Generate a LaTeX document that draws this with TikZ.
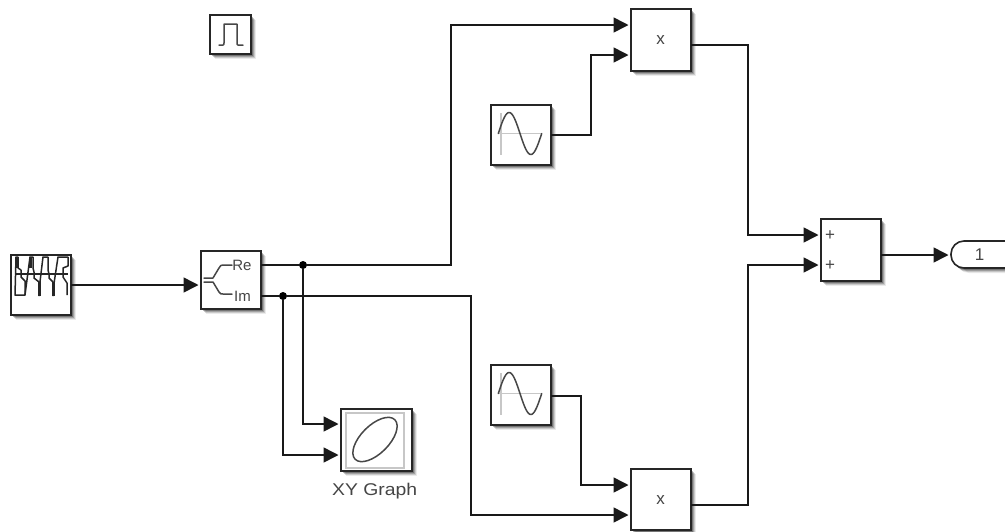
\documentclass[tikz,border=0pt]{standalone}
\usepackage{fontspec}
\setmainfont{Liberation Sans}
\usetikzlibrary{arrows.meta,shadows}
\definecolor{lbl}{gray}{0.27}
\tikzset{
 x=1pt,y=-1pt,
 softshadow/.style={
  general shadow={shadow xshift=5pt,shadow yshift=-5pt,fill=black,opacity=.08},
  general shadow={shadow xshift=4pt,shadow yshift=-4pt,fill=black,opacity=.14},
  general shadow={shadow xshift=3pt,shadow yshift=-3pt,fill=black,opacity=.20},
  general shadow={shadow xshift=2pt,shadow yshift=-2pt,fill=black,opacity=.28}},
 blockbox/.style={softshadow,draw=black!85,fill=white,line width=1.6pt,inner sep=0pt,outer sep=0pt,anchor=north west},
 wire/.style={draw=black!90,line width=1.6pt},
 arrowwire/.style={wire,-{Triangle[length=15pt,width=15pt]},shorten >=2.5pt},
 dot/.style={circle,fill=black,inner sep=0pt,minimum size=8pt},
 icon/.style={draw=black!72,line width=1.5pt,line cap=round,line join=round},
 faint/.style={draw=black!22,line width=1.2pt},
 srcline/.style={draw=black!85,line width=1.5pt,line join=round},
 lab/.style={text=lbl,inner sep=0pt,font=\fontsize{15}{15}\selectfont},
 bigLab/.style={text=lbl,inner sep=0pt,font=\fontsize{17}{17}\selectfont},
}
\begin{document}
\begin{tikzpicture}
\useasboundingbox (0,0) rectangle (1005,531);
% blocks
\node[blockbox,minimum width=60pt,minimum height=60pt] (src) at (11,255) {};
\node[blockbox,minimum width=60pt,minimum height=58pt] (cplx) at (201,251) {};
\node[blockbox,minimum width=41pt,minimum height=39pt] (pulse) at (210,15) {};
\node[blockbox,minimum width=60pt,minimum height=62pt] (m1) at (631,9) {};
\node[blockbox,minimum width=60pt,minimum height=60pt] (s1) at (491,105) {};
\node[blockbox,minimum width=60pt,minimum height=60pt] (s2) at (491,365) {};
\node[blockbox,minimum width=60pt,minimum height=61pt] (m2) at (631,469) {};
\node[blockbox,minimum width=60pt,minimum height=62pt] (sum) at (821,219) {};
\node[blockbox,minimum width=71pt,minimum height=62pt] (xy) at (341,409) {};
\node[blockbox,rounded corners=13pt,minimum width=75pt,minimum height=27pt] (out) at (951,241) {};
% port coordinates
\coordinate (srcO) at (71,285);
\coordinate (cIn) at (201,285);
\coordinate (cRe) at (261,265);
\coordinate (cIm) at (261,296);
\coordinate (m1a) at (631,25);
\coordinate (m1b) at (631,55);
\coordinate (m1O) at (691,45);
\coordinate (s1O) at (551,135);
\coordinate (s2O) at (551,396);
\coordinate (m2a) at (631,485);
\coordinate (m2b) at (631,515);
\coordinate (m2O) at (691,505);
\coordinate (sa) at (821,235);
\coordinate (sb) at (821,265);
\coordinate (sO) at (881,255);
\coordinate (outI) at (951,255);
\coordinate (xa) at (341,424);
\coordinate (xb) at (341,455);
\node[dot] (jre) at (303,265) {};
\node[dot] (jim) at (283,296) {};
% wires
\draw[arrowwire] (srcO) -- (cIn);
\draw[wire] (cRe) -- (jre);
\draw[wire] (cIm) -- (jim);
\draw[arrowwire] (jre) -- (451,265) -- (451,25) -- (m1a);
\draw[arrowwire] (jim) -- (471,296) -- (471,515) -- (m2b);
\draw[arrowwire] (jre) -- (303,424) -- (xa);
\draw[arrowwire] (jim) -- (283,455) -- (xb);
\draw[arrowwire] (s1O) -- (591,135) -- (591,55) -- (m1b);
\draw[arrowwire] (s2O) -- (581,396) -- (581,485) -- (m2a);
\draw[arrowwire] (m1O) -- (748,45) -- (748,235) -- (sa);
\draw[arrowwire] (m2O) -- (748,505) -- (748,265) -- (sb);
\draw[arrowwire] (sO) -- (outI);
% labels
\node[bigLab] (xt1) at (660.7,40) {x};
\node[bigLab] (xt2) at (660.7,500) {x};
\node[lab] (re) at (242,265) {Re};
\node[lab] (im) at (242.5,296) {Im};
\node[bigLab] (p1) at (830,235.7) {+};
\node[bigLab] (p2) at (830,266) {+};
\node[bigLab] (one) at (979.5,255) {1};
\node[bigLab,xscale=1.14] (xyl) at (374.7,491) {XY Graph};
% complex icon
\draw[icon] (204,278) -- (213,278) -- (219,268) .. controls (220.5,265.5) and (221,265) .. (223,265) -- (232,265);
\draw[icon] (204,282) -- (213,282) -- (219,292) .. controls (220.5,294) and (221,294) .. (223,294) -- (232,294);
% pulse icon
\draw[icon] (219,45) -- (223,45) .. controls (224,45) and (224,44) .. (224,43) -- (224,24) -- (237,24) -- (237,43) .. controls (237,44) and (237,45) .. (238,45) -- (243,45);
% sine icons
\foreach \yy/\nm in {105/a,365/b}{
 \begin{scope}[shift={(491,\yy)}]
 \draw[faint] (10,8) -- (10,50);
 \draw[faint] (7.3,28.5) -- (50.7,28.5);
 \draw[icon] plot[smooth,domain=0:360,samples=41] ({7.3+\x*43.4/360},{28.5-21*sin(\x)});
 \end{scope}
}
% xy icon
\draw[faint] (346,413) rectangle (404,468);
\draw[icon,rotate around={45:(375,439.5)}] (375,439.5) ellipse (28 and 14);
% source icon: staircase repeating pattern
\draw[srcline] (16,274) -- (68,274);
\draw[srcline] (15,295) -- (16,257) -- (18,257) -- (18,268) -- (21,270) -- (21,277) -- (25,281) -- (25,295) -- cycle;
\draw[srcline] (25,295) -- (30,257) -- (33,257) -- (33,268) -- (34,272) -- (34,278) -- (39,282) -- (39,296);
\draw[srcline] (39,290) -- (43,257) -- (48,257) -- (48,270) -- (49,274) -- (49,278) -- (53,282) -- (53,296);
\draw[srcline] (53,290) -- (58,257) -- (68,257) -- (68,266) -- (63,268) -- (63,277) -- (67,283) -- (67,295);
\draw[draw=black!85,line width=3pt] (16.5,257) -- (16.5,268) (30.5,257) -- (30.5,268) (39,282) -- (39,296) (53,282) -- (53,296);
\end{tikzpicture}
\end{document}
